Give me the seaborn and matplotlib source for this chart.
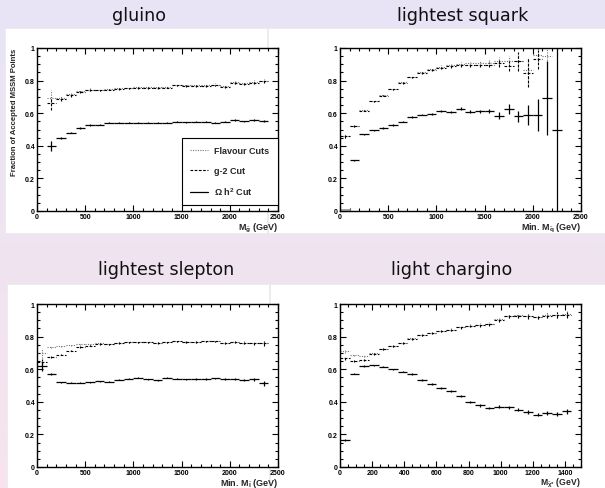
import numpy as np
import matplotlib
matplotlib.use("Agg")
import matplotlib.pyplot as plt
import seaborn as sns
from matplotlib.patches import Rectangle
from matplotlib.lines import Line2D
from matplotlib.ticker import MultipleLocator, FixedLocator, FixedFormatter

sns.set_theme(style="ticks")
plt.rcParams["font.family"] = ["Liberation Sans", "DejaVu Sans"]
plt.rcParams["mathtext.fontset"] = "custom"
plt.rcParams["mathtext.rm"] = "Liberation Sans:bold"
plt.rcParams["mathtext.bf"] = "Liberation Sans:bold"
plt.rcParams["mathtext.it"] = "Liberation Sans:bold"
plt.rcParams["mathtext.default"] = "bf"

# ---------------- data ----------------
panel_titles = ["gluino", "lightest squark", "lightest slepton", "light chargino"]
series_labels = ["Flavour Cuts", "g-2 Cut", r"$\Omega$ h$^{2}$ Cut"]

# gluino, 100 GeV bins
gluino_x = [150, 250, 350, 450, 550, 650, 750, 850, 950, 1050, 1150, 1250,
            1350, 1450, 1550, 1650, 1750, 1850, 1950, 2050, 2150, 2250, 2350]
gluino_flav = [0.695, 0.695, 0.715, 0.735, 0.745, 0.745, 0.750, 0.752, 0.755, 0.760, 0.760, 0.760,
               0.760, 0.775, 0.770, 0.770, 0.772, 0.776, 0.768, 0.790, 0.785, 0.792, 0.800]
gluino_flav_err = [0.045, 0.012, 0.010, 0.008, 0.007, 0.006, 0.006, 0.006, 0.006, 0.006, 0.006, 0.006,
                   0.006, 0.006, 0.006, 0.006, 0.007, 0.007, 0.007, 0.008, 0.008, 0.009, 0.010]
gluino_g2 = [0.660, 0.685, 0.710, 0.730, 0.740, 0.740, 0.745, 0.748, 0.752, 0.755, 0.755, 0.755,
             0.757, 0.770, 0.765, 0.766, 0.767, 0.770, 0.762, 0.786, 0.780, 0.786, 0.795]
gluino_g2_err = [0.040, 0.010, 0.008, 0.007, 0.006, 0.005, 0.005, 0.005, 0.005, 0.005, 0.005, 0.005,
                 0.005, 0.005, 0.005, 0.006, 0.006, 0.006, 0.006, 0.007, 0.007, 0.008, 0.009]
gluino_om = [0.400, 0.450, 0.480, 0.510, 0.527, 0.530, 0.542, 0.542, 0.542, 0.541, 0.540, 0.540,
             0.542, 0.547, 0.543, 0.547, 0.547, 0.541, 0.548, 0.557, 0.550, 0.558, 0.551]
gluino_om_err = [0.030, 0.006, 0.004, 0.004, 0.004, 0.003, 0.003, 0.003, 0.003, 0.003, 0.003, 0.003,
                 0.003, 0.004, 0.004, 0.004, 0.004, 0.004, 0.004, 0.005, 0.005, 0.006, 0.006]

# lightest squark, 100 GeV bins
squark_low_x = [50]
squark_low_om = [0.015]
squark_flav_x = [50, 150, 250, 350, 450, 550, 650, 750, 850, 950, 1050,
                 1150, 1250, 1350, 1450, 1550, 1650, 1750, 1850, 1950, 2050, 2150]
squark_flav = [0.460, 0.522, 0.618, 0.675, 0.712, 0.750, 0.790, 0.825, 0.852, 0.872, 0.885,
               0.895, 0.903, 0.905, 0.907, 0.910, 0.918, 0.918, 0.920, 0.862, 0.960, 0.950]
squark_flav_err = [0.012, 0.006, 0.005, 0.005, 0.005, 0.005, 0.005, 0.006, 0.006, 0.007, 0.008,
                   0.009, 0.010, 0.012, 0.014, 0.018, 0.025, 0.030, 0.040, 0.080, 0.060, 0.250]
squark_g2_x = [50, 150, 250, 350, 450, 550, 650, 750, 850, 950, 1050,
               1150, 1250, 1350, 1450, 1550, 1650, 1750, 1850, 1950, 2050]
squark_g2 = [0.458, 0.520, 0.615, 0.672, 0.708, 0.746, 0.785, 0.820, 0.847, 0.866, 0.878,
             0.888, 0.895, 0.896, 0.898, 0.897, 0.910, 0.890, 0.918, 0.845, 0.930]
squark_g2_err = [0.012, 0.005, 0.004, 0.004, 0.004, 0.004, 0.004, 0.005, 0.005, 0.006, 0.007,
                 0.008, 0.009, 0.010, 0.012, 0.015, 0.025, 0.030, 0.060, 0.085, 0.060]
squark_om_x = [150, 250, 350, 450, 550, 650, 750, 850, 950, 1050, 1150,
               1250, 1350, 1450, 1550, 1650, 1750, 1850, 1950, 2050, 2150, 2250]
squark_om = [0.311, 0.470, 0.495, 0.510, 0.528, 0.548, 0.577, 0.591, 0.597, 0.611, 0.607,
             0.628, 0.609, 0.611, 0.615, 0.585, 0.624, 0.581, 0.589, 0.588, 0.693, 0.500]
squark_om_err = [0.004, 0.004, 0.004, 0.004, 0.004, 0.004, 0.005, 0.005, 0.005, 0.006, 0.006,
                 0.007, 0.008, 0.009, 0.011, 0.020, 0.030, 0.035, 0.060, 0.100, 0.225, 0.500]

# lightest slepton, 100 GeV bins
slepton_x = [50, 150, 250, 350, 450, 550, 650, 750, 850, 950, 1050, 1150,
             1250, 1350, 1450, 1550, 1650, 1750, 1850, 1950, 2050, 2150, 2250, 2350]
slepton_flav = [0.700, 0.738, 0.742, 0.748, 0.752, 0.756, 0.760, 0.755, 0.763, 0.768, 0.768, 0.768,
                0.763, 0.768, 0.773, 0.768, 0.768, 0.773, 0.773, 0.763, 0.768, 0.763, 0.761, 0.763]
slepton_flav_err = [0.030, 0.006, 0.005, 0.005, 0.005, 0.005, 0.005, 0.005, 0.005, 0.005, 0.005, 0.005,
                    0.005, 0.005, 0.005, 0.005, 0.006, 0.006, 0.006, 0.006, 0.007, 0.007, 0.008, 0.012]
slepton_g2 = [0.645, 0.672, 0.690, 0.714, 0.737, 0.745, 0.755, 0.752, 0.760, 0.765, 0.765, 0.765,
              0.760, 0.765, 0.770, 0.765, 0.765, 0.770, 0.770, 0.760, 0.765, 0.760, 0.758, 0.760]
slepton_g2_err = [0.020, 0.006, 0.005, 0.005, 0.005, 0.004, 0.004, 0.004, 0.004, 0.004, 0.004, 0.004,
                  0.004, 0.004, 0.004, 0.005, 0.005, 0.005, 0.005, 0.006, 0.006, 0.007, 0.008, 0.015]
slepton_om = [0.620, 0.570, 0.520, 0.518, 0.518, 0.520, 0.527, 0.523, 0.535, 0.540, 0.548, 0.537,
              0.532, 0.548, 0.540, 0.537, 0.540, 0.540, 0.545, 0.538, 0.538, 0.533, 0.537, 0.515]
slepton_om_err = [0.030, 0.005, 0.004, 0.003, 0.003, 0.003, 0.003, 0.003, 0.003, 0.003, 0.003, 0.003,
                  0.003, 0.003, 0.003, 0.004, 0.004, 0.004, 0.004, 0.005, 0.005, 0.006, 0.007, 0.015]

# light chargino, 60 GeV bins
chargino_x = [30, 90, 150, 210, 270, 330, 390, 450, 510, 570, 630, 690,
              750, 810, 870, 930, 990, 1050, 1110, 1170, 1230, 1290, 1350, 1410]
chargino_flav = [0.710, 0.685, 0.680, 0.700, 0.724, 0.745, 0.763, 0.790, 0.811, 0.823, 0.835, 0.843,
                 0.858, 0.866, 0.872, 0.880, 0.905, 0.928, 0.930, 0.926, 0.922, 0.930, 0.934, 0.936]
chargino_flav_err = [0.010, 0.006, 0.006, 0.006, 0.006, 0.006, 0.006, 0.006, 0.007, 0.007, 0.007, 0.008,
                     0.008, 0.009, 0.009, 0.010, 0.011, 0.012, 0.013, 0.014, 0.015, 0.016, 0.017, 0.018]
chargino_g2 = [0.667, 0.652, 0.656, 0.693, 0.722, 0.743, 0.761, 0.788, 0.809, 0.821, 0.833, 0.841,
               0.856, 0.864, 0.870, 0.878, 0.903, 0.926, 0.928, 0.924, 0.920, 0.928, 0.932, 0.934]
chargino_g2_err = [0.008, 0.005, 0.005, 0.005, 0.005, 0.005, 0.005, 0.006, 0.006, 0.006, 0.007, 0.007,
                   0.008, 0.008, 0.009, 0.010, 0.011, 0.012, 0.013, 0.014, 0.015, 0.016, 0.017, 0.018]
chargino_om = [0.168, 0.572, 0.619, 0.623, 0.615, 0.599, 0.584, 0.570, 0.535, 0.510, 0.486, 0.465,
               0.436, 0.397, 0.378, 0.364, 0.370, 0.366, 0.350, 0.338, 0.321, 0.333, 0.327, 0.341]
chargino_om_err = [0.006, 0.004, 0.004, 0.004, 0.004, 0.004, 0.004, 0.004, 0.005, 0.005, 0.005, 0.005,
                   0.006, 0.006, 0.007, 0.007, 0.008, 0.008, 0.009, 0.010, 0.010, 0.011, 0.012, 0.013]

x_labels = [r"M$_{\tilde{g}}$ (GeV)", r"Min. M$_{\tilde{q}}$ (GeV)",
            r"Min. M$_{\tilde{l}}$ (GeV)", r"M$_{\tilde{\chi}^{\pm}}$ (GeV)"]
y_label = "Fraction of Accepted MSSM Points"

# ---------------- styling ----------------
W, H = 605, 489
STYLE = {
    "flav": dict(color="#777777", ls=(0, (1, 1.2)), lw=0.8),
    "g2": dict(color="black", ls=(0, (2.4, 1.4)), lw=0.8),
    "om": dict(color="black", ls="-", lw=0.9),
}

fig = plt.figure(figsize=(W / 100, H / 100), dpi=100)

# slide background with a soft vertical gradient
bg = fig.add_axes([0, 0, 1, 1])
top_c = np.array([232, 229, 246]) / 255
bot_c = np.array([247, 227, 236]) / 255
t = np.linspace(0, 1, 256)[:, None, None]
grad = top_c[None, None, :] * (1 - t) + bot_c[None, None, :] * t
bg.imshow(grad, aspect="auto", extent=[0, 1, 0, 1], origin="upper")
bg.set_xlim(0, 1)
bg.set_ylim(0, 1)
bg.axis("off")


def px_rect(x0, y0, x1, y1):
    return Rectangle((x0 / W, 1 - y1 / H), (x1 - x0) / W, (y1 - y0) / H,
                     facecolor="white", edgecolor="#ebebeb", lw=0.6,
                     transform=bg.transAxes)


for r in [(5, 29, 267, 234), (268, 29, 606, 234), (7, 285, 269, 490), (270, 285, 606, 490)]:
    bg.add_patch(px_rect(*r))

title_pos = [(139, 16), (463, 16), (166, 270), (452, 270)]
for txt, (tx, ty) in zip(panel_titles, title_pos):
    fig.text(tx / W, 1 - ty / H, txt, ha="center", va="center",
             fontsize=12.6, family="DejaVu Sans", color="#111111")


def hist_points(ax, x, y, err, half, key):
    st = STYLE[key]
    eb = ax.errorbar(x, y, xerr=half, yerr=err, fmt="none", ecolor=st["color"],
                     elinewidth=st["lw"], capsize=0, clip_on=True)
    for lc in eb.lines[2]:
        lc.set_linestyle(st["ls"])
    return eb


def style_axes(ax, xmax, major, minor, xlabel, label_y=-0.058, label_size=6.5):
    ax.set_xlim(0, xmax)
    ax.set_ylim(0, 1)
    ax.xaxis.set_major_locator(MultipleLocator(major))
    ax.xaxis.set_minor_locator(MultipleLocator(minor))
    ax.yaxis.set_major_locator(FixedLocator([0, 0.2, 0.4, 0.6, 0.8, 1.0]))
    ax.yaxis.set_major_formatter(FixedFormatter(["0", "0.2", "0.4", "0.6", "0.8", "1"]))
    ax.yaxis.set_minor_locator(MultipleLocator(0.05))
    ax.tick_params(which="both", direction="in", top=True, right=True,
                   labelsize=5, width=0.8, pad=1.5, colors="black")
    ax.tick_params(which="major", length=4.6)
    ax.tick_params(which="minor", length=2.2)
    for lab in ax.get_xticklabels() + ax.get_yticklabels():
        lab.set_fontweight("bold")
    for sp in ax.spines.values():
        sp.set_visible(True)
        sp.set_linewidth(1.0)
        sp.set_color("black")
    ax.set_facecolor("white")
    ax.grid(False)
    ax.text(1.0, label_y, xlabel, transform=ax.transAxes, ha="right", va="top",
            fontsize=label_size, fontweight="bold")


ax_pos = [(37, 49), (340, 49), (37, 305), (340, 305)]
axes = []
for (lx, ty) in ax_pos:
    axes.append(fig.add_axes([lx / W, 1 - (ty + 163) / H, 241 / W, 163 / H]))

# gluino
ax = axes[0]
hist_points(ax, gluino_x, gluino_flav, gluino_flav_err, 50, "flav")
hist_points(ax, gluino_x, gluino_g2, gluino_g2_err, 50, "g2")
hist_points(ax, gluino_x, gluino_om, gluino_om_err, 50, "om")
style_axes(ax, 2500, 500, 100, x_labels[0])
ax.set_ylabel(y_label, fontsize=5.6, fontweight="bold", loc="top", labelpad=5)
handles = [Line2D([], [], color=STYLE[k]["color"], ls=STYLE[k]["ls"], lw=STYLE[k]["lw"])
           for k in ("flav", "g2", "om")]
leg = ax.legend(handles, series_labels, loc="lower left",
                bbox_to_anchor=(0.6, 0.037, 0.4, 0.363), mode="expand",
                borderaxespad=0, fancybox=False, framealpha=1, edgecolor="black",
                prop=dict(size=6.5, weight="bold"), handlelength=2.0,
                handletextpad=0.7, labelspacing=1.15, borderpad=0.9)
leg.get_frame().set_linewidth(0.8)

# lightest squark
ax = axes[1]
sns.barplot(x=squark_low_x, y=squark_low_om, ax=ax, native_scale=True, width=100,
            color="#aaaaaa", edgecolor="#888888", linewidth=0.5)
hist_points(ax, squark_flav_x, squark_flav, squark_flav_err, 50, "flav")
hist_points(ax, squark_g2_x, squark_g2, squark_g2_err, 50, "g2")
hist_points(ax, squark_om_x, squark_om, squark_om_err, 50, "om")
style_axes(ax, 2500, 500, 100, x_labels[1])
ax.set_ylabel("")

# lightest slepton
ax = axes[2]
hist_points(ax, slepton_x, slepton_flav, slepton_flav_err, 50, "flav")
hist_points(ax, slepton_x, slepton_g2, slepton_g2_err, 50, "g2")
hist_points(ax, slepton_x, slepton_om, slepton_om_err, 50, "om")
style_axes(ax, 2500, 500, 100, x_labels[2])

# light chargino
ax = axes[3]
hist_points(ax, chargino_x, chargino_flav, chargino_flav_err, 30, "flav")
hist_points(ax, chargino_x, chargino_g2, chargino_g2_err, 30, "g2")
hist_points(ax, chargino_x, chargino_om, chargino_om_err, 30, "om")
style_axes(ax, 1500, 200, 50, x_labels[3], label_y=-0.052, label_size=6.2)

fig.savefig("out.png", dpi=100)
